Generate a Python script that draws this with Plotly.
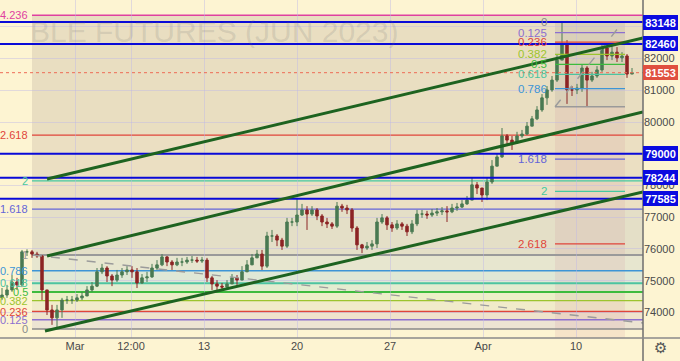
import plotly.graph_objects as go

# ---------------- data ----------------
OPEN_FIRST = 74460
CLOSE = [74550, 74710, 74960, 74870, 75910, 75910, 75840, 75780, 74710, 74080,
         73830, 74080, 74390, 74390, 74390, 74460, 74520, 74710, 74830, 75280,
         75400, 75150, 75020, 75180, 75280, 75340, 75280, 74930, 75090, 75120,
         75400, 75500, 75750, 75590, 75500, 75590, 75590, 75650, 75650, 75620,
         75650, 75090, 74900, 74830, 74800, 74900, 75090, 75020, 75280, 75500,
         75720, 75840, 75460, 76410, 76410, 76280, 76090, 76850, 76850, 77070,
         77230, 77100, 77230, 77040, 76850, 76790, 76720, 77350, 77290, 77230,
         76660, 76130, 76030, 76090, 76160, 76850, 76980, 76760, 76660, 76790,
         76720, 76540, 76790, 77100, 77100, 77070, 77130, 77170, 77200, 77170,
         77290, 77320, 77420, 77540, 78020, 77920, 77700, 78110, 78610, 78900,
         79560, 79430, 79340, 79560, 79620, 79870, 80100, 80380, 80760, 81010,
         81320, 81950, 82430, 81010, 81010, 81070, 81700, 81320, 81450, 81640,
         82330, 82080, 82200, 82020, 82080, 81510, 81553]
HIGH = [74770, 74870, 75180, 75090, 75970, 75990, 75970, 75910, 75810, 74710,
        74240, 74240, 74460, 74520, 74520, 74580, 74650, 74830, 74960, 75400,
        75530, 75460, 75210, 75340, 75400, 75460, 75460, 75400, 75210, 75280,
        75530, 75650, 75840, 75780, 75650, 75720, 75720, 75750, 75780, 75750,
        75750, 75720, 75150, 75020, 74930, 75020, 75210, 75180, 75460, 75650,
        75840, 75970, 75970, 76540, 76600, 76470, 76350, 76980, 76980, 77610,
        77420, 77350, 77350, 77290, 77100, 76980, 76850, 77480, 77420, 77390,
        77290, 76720, 76160, 76220, 76280, 76980, 77100, 77040, 76850, 76910,
        76850, 76790, 76910, 77230, 77230, 77200, 77260, 77290, 77320, 77350,
        77420, 77450, 77540, 77670, 78240, 78110, 77920, 78240, 78800, 78990,
        79810, 79620, 79560, 79690, 79750, 80000, 80190, 80500, 80880, 81130,
        81450, 82110, 83148, 82580, 81130, 81200, 81800, 81760, 81580, 81760,
        82490, 82330, 82390, 82360, 82200, 82140, 81700]
LOW = [74390, 74460, 74650, 74710, 74800, 75780, 75720, 75720, 74390, 73920,
       73610, 73510, 73830, 74270, 74270, 74330, 74390, 74520, 74650, 74800,
       75210, 74960, 74830, 74960, 75090, 75180, 75090, 74770, 74900, 74960,
       75090, 75340, 75460, 75460, 75340, 75460, 75460, 75530, 75560, 75560,
       75560, 74960, 74710, 74680, 74680, 74710, 74900, 74870, 75090, 75340,
       75530, 75720, 75340, 75400, 76220, 76090, 75970, 76030, 76720, 76720,
       77040, 76600, 77040, 76910, 76720, 76660, 76630, 76660, 77170, 77100,
       76540, 75970, 75870, 75970, 75970, 76030, 76790, 76600, 76540, 76600,
       76600, 76410, 76470, 76720, 76980, 76950, 77010, 77040, 77070, 76850,
       77130, 77200, 77290, 77390, 77540, 77730, 77480, 77540, 78050, 78610,
       78870, 79310, 79120, 79310, 79500, 79590, 79870, 80060, 80320, 80540,
       80950, 81260, 81950, 80570, 80820, 80880, 80950, 80500, 81260, 81390,
       81580, 81950, 81950, 81890, 81890, 81390, 81510]

DATE_TICK_POS = [14.6, 25.8, 40.4, 59.0, 77.6, 96.2, 114.8]
DATE_TICK_TEXT = ["Mar", "12:00", "13", "20", "27", "Apr", "10"]

PRICE_TICKS = [74000, 75000, 76000, 77000, 78000, 79000, 80000, 81000, 82000, 83000]
PRICE_TICK_TEXT = ["74000", "75000", "76000", "77000", "78000", "", "80000", "81000", "82000", ""]

KEY_LEVELS = [83148, 82460, 79000, 78244, 77585]
LAST_PRICE = 81553

# left Fibonacci (0 = low, 1 = high)
FIB_L_ZERO = 73480
FIB_L_ONE = 75813
FIB_L_START = 6.0
FIB_L_LEVELS = [0, 0.125, 0.236, 0.382, 0.5, 0.618, 0.786, 1, 1.618, 2, 2.618, 4.236]
FIB_L_LABELS = ["0", "0.125", "0.236", "0.382", "0.5", "0.618", "0.786", "1", "1.618", "2", "2.618", "4.236"]

# right Fibonacci (0 = high, 1 = low)
FIB_R_ZERO = 83148
FIB_R_ONE = 80480
FIB_R_X = [110.6, 124.6]
FIB_R_LEVELS = [0, 0.125, 0.236, 0.382, 0.5, 0.618, 0.786, 1, 1.618, 2, 2.618]
FIB_R_LABELS = ["0", "0.125", "0.236", "0.382", "0.5", "0.618", "0.786", "1", "1.618", "2", "2.618"]

# trend lines  (x0, y0, x1, y1)
CHANNEL_TOP = [9.0, 78204, 128.2, 82646]
CHANNEL_MID = [9.0, 75779, 128.2, 80315]
CHANNEL_BOT = [8.6, 73416, 128.2, 77795]
DASHED_TREND = [6.2, 75811, 128.2, 73669]
FIB_R_DIAG = [110.6, 80480, 124.2, 83148]

# ---------------- styles ----------------
LEVEL_COLORS = {
    0: "#8a8a8a", 0.125: "#8c6fd0", 0.236: "#e0453a", 0.382: "#9cc42e",
    0.5: "#3dbb3d", 0.618: "#4cc4a0", 0.786: "#3d95d6", 1: "#9a9a9a",
    1.618: "#6464d8", 2: "#45c9a0", 2.618: "#e0453a", 4.236: "#e040a0",
}
ZONE_FILL = {  # fill of the zone that ends at this level (from the previous one)
    0.125: "#ede4d3", 0.236: "#efe3cc", 0.382: "#f1ebca", 0.5: "#ecefc8",
    0.618: "#e3ecd0", 0.786: "#dfe8d6", 1: "#e7e6cf", 1.618: "#e4dfc7",
    2: "#ebe0c4", 2.618: "#ebdfc2", 4.236: "#e9dec1",
}
BG = "#fdf4d2"
FONT = "Liberation Sans, Arial, sans-serif"
YMIN, YMAX = 73196, 83843
XMIN, XMAX = -0.4, 128.2

fig = go.Figure()

opens = [OPEN_FIRST] + CLOSE[:-1]
fig.add_trace(go.Candlestick(
    x=list(range(len(CLOSE))), open=opens, high=HIGH, low=LOW, close=CLOSE,
    increasing=dict(line=dict(color="#4a7a52", width=1), fillcolor="#4a7a52"),
    decreasing=dict(line=dict(color="#8c2424", width=1), fillcolor="#8c2424"),
    whiskerwidth=0, hoverinfo="skip", showlegend=False,
))

shapes = []
annotations = []

def lp(level):
    return FIB_L_ZERO + level * (FIB_L_ONE - FIB_L_ZERO)

def rp(level):
    return FIB_R_ZERO - level * (FIB_R_ZERO - FIB_R_ONE)

# left fib zone fills
for i in range(1, len(FIB_L_LEVELS)):
    a, b = FIB_L_LEVELS[i - 1], FIB_L_LEVELS[i]
    shapes.append(dict(type="rect", xref="x", yref="y", x0=FIB_L_START, x1=XMAX + 5,
                       y0=lp(a), y1=lp(b), fillcolor=ZONE_FILL[b], line_width=0, layer="below"))

# right fib band
shapes.append(dict(type="rect", xref="x", yref="y", x0=FIB_R_X[0], x1=FIB_R_X[1],
                   y0=rp(1), y1=rp(0), fillcolor="rgba(120,115,125,0.13)", line_width=0, layer="below"))
shapes.append(dict(type="rect", xref="x", yref="y", x0=FIB_R_X[0], x1=FIB_R_X[1],
                   y0=YMIN - 500, y1=rp(1), fillcolor="rgba(200,120,150,0.13)", line_width=0, layer="below"))

# left fib lines + labels
for lev, lab in zip(FIB_L_LEVELS, FIB_L_LABELS):
    w = 2 if lev in (1, 0.5, 0.618) else 1.3
    shapes.append(dict(type="line", xref="x", yref="y", x0=FIB_L_START, x1=XMAX + 5,
                       y0=lp(lev), y1=lp(lev), line=dict(color=LEVEL_COLORS[lev], width=w), layer="below"))
    annotations.append(dict(x=FIB_L_START - 0.4, y=lp(lev), xref="x", yref="y", text=lab,
                            showarrow=False, xanchor="right", yanchor="middle",
                            font=dict(size=11, color=LEVEL_COLORS[lev], family=FONT)))

# right fib lines + labels
for lev, lab in zip(FIB_R_LEVELS, FIB_R_LABELS):
    shapes.append(dict(type="line", xref="x", yref="y", x0=FIB_R_X[0], x1=FIB_R_X[1],
                       y0=rp(lev), y1=rp(lev), line=dict(color=LEVEL_COLORS[lev], width=1.3)))
    if lev != 1:
        annotations.append(dict(x=FIB_R_X[0] - 1.2, y=rp(lev), xref="x", yref="y", text=lab,
                                showarrow=False, xanchor="right", yanchor="middle",
                                font=dict(size=11.5, color=LEVEL_COLORS[lev], family=FONT)))

# dashed lines
for seg in (DASHED_TREND, FIB_R_DIAG):
    shapes.append(dict(type="line", xref="x", yref="y", x0=seg[0], y0=seg[1], x1=seg[2], y1=seg[3],
                       line=dict(color="#9b9b9b", width=1.4, dash="dash")))

# key horizontal levels
for lv in KEY_LEVELS:
    shapes.append(dict(type="line", xref="paper", yref="y", x0=0, x1=1, y0=lv, y1=lv,
                       line=dict(color="#0a0ad8", width=2)))

# last price dotted
shapes.append(dict(type="line", xref="paper", yref="y", x0=0, x1=1, y0=LAST_PRICE, y1=LAST_PRICE,
                   line=dict(color="#ee6a55", width=1, dash="dot")))

# channel
for seg in (CHANNEL_TOP, CHANNEL_MID, CHANNEL_BOT):
    shapes.append(dict(type="line", xref="x", yref="y", x0=seg[0], y0=seg[1], x1=seg[2], y1=seg[3],
                       line=dict(color="#1d6320", width=3)))

# axis frame lines
shapes.append(dict(type="line", xref="paper", yref="paper", x0=1, x1=1, y0=-0.07, y1=1,
                   line=dict(color="#6e6e6e", width=1.5)))
shapes.append(dict(type="line", xref="paper", yref="paper", x0=0, x1=1.06, y0=0, y1=0,
                   line=dict(color="#8a8a8a", width=1.5)))

# right axis price boxes
PX = 661 / 643
for lv in KEY_LEVELS:
    annotations.append(dict(x=PX, y=lv, xref="paper", yref="y", text=str(lv), showarrow=False,
                            xanchor="center", yanchor="middle", width=33, height=13,
                            bgcolor="#0b0be0", bordercolor="#0b0be0", borderpad=0,
                            font=dict(size=11, color="white", family=FONT, weight="bold")))
annotations.append(dict(x=PX, y=LAST_PRICE, xref="paper", yref="y", text=str(LAST_PRICE), showarrow=False,
                        xanchor="center", yanchor="middle", width=33, height=13,
                        bgcolor="#e0503f", bordercolor="#e0503f", borderpad=0,
                        font=dict(size=11, color="white", family=FONT, weight="bold")))

# watermark
annotations.append(dict(x=400 / 643, y=1 - 31 / 338, xref="paper", yref="paper",
                        text="BLE FUTURES (JUN 2023)", showarrow=False, xanchor="right", yanchor="middle",
                        font=dict(size=30, color="rgba(110,110,110,0.18)", family=FONT)))

# settings icon
annotations.append(dict(x=PX, y=-10 / 338, xref="paper", yref="paper", text="⚙", showarrow=False,
                        xanchor="center", yanchor="middle",
                        font=dict(size=15, color="#555555", family="DejaVu Sans")))

fig.update_layout(
    width=680, height=361,
    margin=dict(l=0, r=37, t=0, b=23),
    paper_bgcolor=BG, plot_bgcolor=BG,
    shapes=shapes, annotations=annotations,
    showlegend=False, hovermode=False,
    xaxis=dict(range=[XMIN, XMAX], rangeslider=dict(visible=False),
               tickvals=DATE_TICK_POS, ticktext=DATE_TICK_TEXT,
               showgrid=True, gridcolor="rgba(190,185,230,0.45)", gridwidth=1,
               zeroline=False, showline=False, ticks="",
               tickfont=dict(size=11, color="#4a4a4a", family=FONT)),
    yaxis=dict(range=[YMIN, YMAX], side="right",
               tickvals=PRICE_TICKS, ticktext=PRICE_TICK_TEXT,
               showgrid=True, gridcolor="rgba(190,185,230,0.45)", gridwidth=1,
               zeroline=False, showline=False, ticks="",
               tickfont=dict(size=11, color="#4a4a4a", family=FONT)),
)

fig.write_html("out.html", config={"displayModeBar": False},
               post_script="document.body.style.margin='0';document.body.style.overflow='hidden';")
